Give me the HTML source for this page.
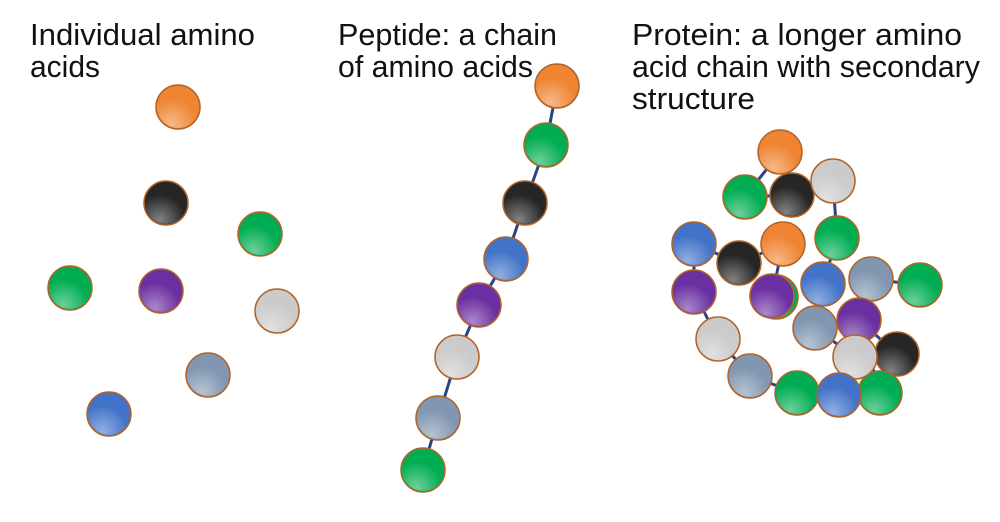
<!DOCTYPE html>
<html><head><meta charset="utf-8"><style>
html,body{margin:0;padding:0;background:#fff;width:1000px;height:522px;overflow:hidden}
svg text{font-family:"Liberation Sans",sans-serif;font-size:31px;fill:#111}
</style></head><body>
<svg width="1000" height="522" viewBox="0 0 1000 522" xmlns="http://www.w3.org/2000/svg">
<defs>
<radialGradient id="hl" cx="0.35" cy="0.9" r="0.6"><stop offset="0" stop-color="#fff" stop-opacity="0.85"/><stop offset="1" stop-color="#fff" stop-opacity="0"/></radialGradient>
</defs>
<text x="30" y="45" textLength="225" lengthAdjust="spacingAndGlyphs">Individual amino</text>
<text x="30" y="77" textLength="70" lengthAdjust="spacingAndGlyphs">acids</text>
<text x="338" y="45" textLength="219" lengthAdjust="spacingAndGlyphs">Peptide: a chain</text>
<text x="338" y="77" textLength="195" lengthAdjust="spacingAndGlyphs">of amino acids</text>
<text x="632" y="45" textLength="330" lengthAdjust="spacingAndGlyphs">Protein: a longer amino</text>
<text x="632" y="77" textLength="348" lengthAdjust="spacingAndGlyphs">acid chain with secondary</text>
<text x="632" y="109" textLength="123" lengthAdjust="spacingAndGlyphs">structure</text>
<g stroke="#2a4584" stroke-width="3" fill="none">
<polyline points="557,86 546,145 525,203 506,259 479,305 457,357 438,418 423,470"/>
<polyline points="780,152 745,197 792,195 833,181 837,238 823,284 815,328 855,357 897,354 859,320 880,393 839,395 797,393 750,376 718,339 694,292 694,244 739,263 783,244 772,296"/>
<line x1="871" y1="279" x2="920" y2="285"/>
</g>
<g id="balls" stroke="#b0642a" stroke-width="1.5"></g>
</svg>
<script>
var C={o:"#ef8432",k:"#262626",g:"#00ad52",p:"#6a2fa0",l:"#cbcbcb",s:"#8196b0",b:"#4273c8"};
var B=[["o",178,107],["k",166,203],["g",260,234],["g",70,288],["p",161,291],["l",277,311],["s",208,375],["b",109,414],
["o",557,86],["g",546,145],["k",525,203],["b",506,259],["p",479,305],["l",457,357],["s",438,418],["g",423,470],
["o",780,152],["g",745,197],["k",792,195],["l",833,181],["g",837,238],["p",694,292],["b",694,244],["k",739,263],["o",783,244],["g",776,297],["p",772,296],["b",823,284],["s",871,279],["g",920,285],["s",815,328],["p",859,320],["l",718,339],["k",897,354],["g",880,393],["l",855,357],["s",750,376],["g",797,393],["b",839,395]];
var g=document.getElementById("balls"),ns="http://www.w3.org/2000/svg";
B.forEach(function(b){var c=document.createElementNS(ns,"circle");c.setAttribute("cx",b[1]);c.setAttribute("cy",b[2]);c.setAttribute("r",22);c.setAttribute("fill",C[b[0]]);g.appendChild(c);
var h=document.createElementNS(ns,"circle");h.setAttribute("cx",b[1]);h.setAttribute("cy",b[2]);h.setAttribute("r",21);h.setAttribute("fill","url(#hl)");h.setAttribute("stroke","none");h.setAttribute("opacity","0.5");g.appendChild(h);});
</script>
</body></html>
